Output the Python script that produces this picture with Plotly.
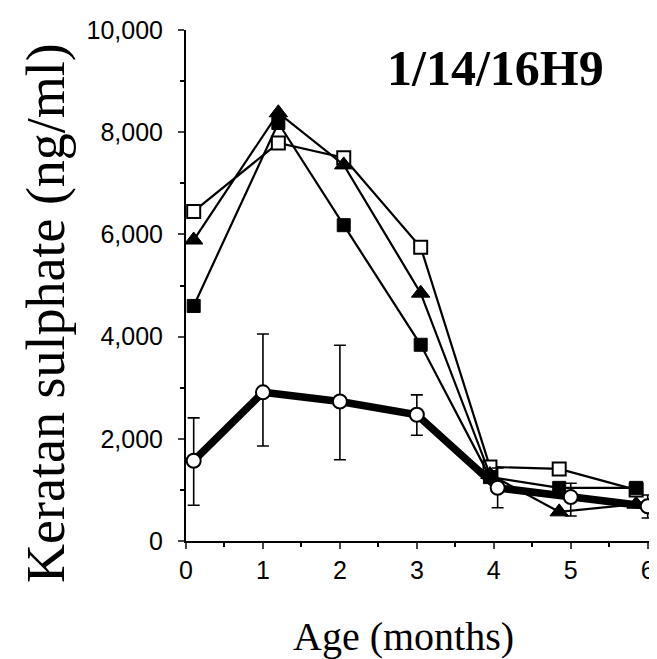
import plotly.graph_objects as go

# Data
age_groups = [0.1, 1.2, 2.05, 3.05, 3.95, 4.85, 5.85]
open_square = [6450, 7790, 7500, 5750, 1450, 1410, 1000]
filled_square = [4600, 8180, 6180, 3840, 1250, 1040, 1040]
filled_triangle = [5890, 8380, 7360, 4850, 1300, 570, 720]

age_mean = [0.1, 1.0, 2.0, 3.0, 4.05, 5.0, 6.0]
mean_circle = [1570, 2910, 2730, 2470, 1040, 860, 680]
err_plus = [840, 1140, 1100, 390, 390, 270, 220]
err_minus = [870, 1050, 1140, 400, 390, 370, 230]

y_ticks = [0, 2000, 4000, 6000, 8000, 10000]
x_ticks = [0, 1, 2, 3, 4, 5, 6]

serif = "Liberation Serif, Times New Roman, serif"
sans = "Liberation Sans, Arial, sans-serif"

fig = go.Figure()

line_style = dict(color="black", width=2.2)

fig.add_trace(go.Scatter(
    x=age_groups, y=open_square, mode="lines+markers",
    line=line_style,
    marker=dict(symbol="square", size=13, color="white",
                line=dict(color="black", width=2)),
    cliponaxis=False, showlegend=False))

fig.add_trace(go.Scatter(
    x=age_groups, y=filled_triangle, mode="lines+markers",
    line=line_style,
    marker=dict(symbol="triangle-up", size=16, color="black",
                line=dict(color="black", width=1)),
    cliponaxis=False, showlegend=False))

fig.add_trace(go.Scatter(
    x=age_groups, y=filled_square, mode="lines+markers",
    line=line_style,
    marker=dict(symbol="square", size=13, color="black",
                line=dict(color="black", width=1)),
    cliponaxis=False, showlegend=False))

fig.add_trace(go.Scatter(
    x=age_mean, y=mean_circle, mode="lines+markers",
    line=dict(color="black", width=7.5),
    marker=dict(symbol="circle", size=14, color="white",
                line=dict(color="black", width=2)),
    error_y=dict(type="data", array=err_plus, arrayminus=err_minus,
                 symmetric=False, color="black", thickness=1.6, width=6),
    cliponaxis=False, showlegend=False))

fig.update_xaxes(
    range=[0, 6.03], tickvals=x_ticks, ticks="outside", ticklen=6, tickwidth=2,
    showline=True, linecolor="black", linewidth=2, showgrid=False, zeroline=False,
    tickfont=dict(family=sans, size=25, color="black"), automargin=False,
    minor=dict(dtick=0.5, ticks="outside", ticklen=4, tickwidth=2, tickcolor="black", showgrid=False),
)
fig.update_yaxes(
    range=[0, 10000], tickvals=y_ticks, tickformat=",d", ticks="outside", ticklen=6, tickwidth=2,
    showline=True, linecolor="black", linewidth=2, showgrid=False, zeroline=False,
    tickfont=dict(family=sans, size=25, color="black"), automargin=False,
    ticklabelstandoff=10,
    minor=dict(dtick=1000, ticks="outside", ticklen=4, tickwidth=2, tickcolor="black", showgrid=False),
)

fig.add_annotation(text="Keratan sulphate (ng/ml)", xref="paper", yref="paper",
                   x=-0.302, y=0.446, textangle=-90, showarrow=False,
                   xanchor="center", yanchor="middle",
                   font=dict(family=serif, size=54, color="black"))
fig.add_annotation(text="Age (months)", xref="paper", yref="paper",
                   x=0.468, y=-0.186, showarrow=False,
                   xanchor="center", yanchor="middle",
                   font=dict(family=serif, size=40, color="black"))
fig.add_annotation(text="<b>1/14/16H9</b>", xref="paper", yref="paper",
                   x=0.668, y=0.926, showarrow=False,
                   xanchor="center", yanchor="middle",
                   font=dict(family=serif, size=50, color="black"))

fig.update_layout(
    width=657, height=659,
    margin=dict(l=178, r=15, t=22, b=126),
    plot_bgcolor="white", paper_bgcolor="white",
)

fig.write_html("out.html")
